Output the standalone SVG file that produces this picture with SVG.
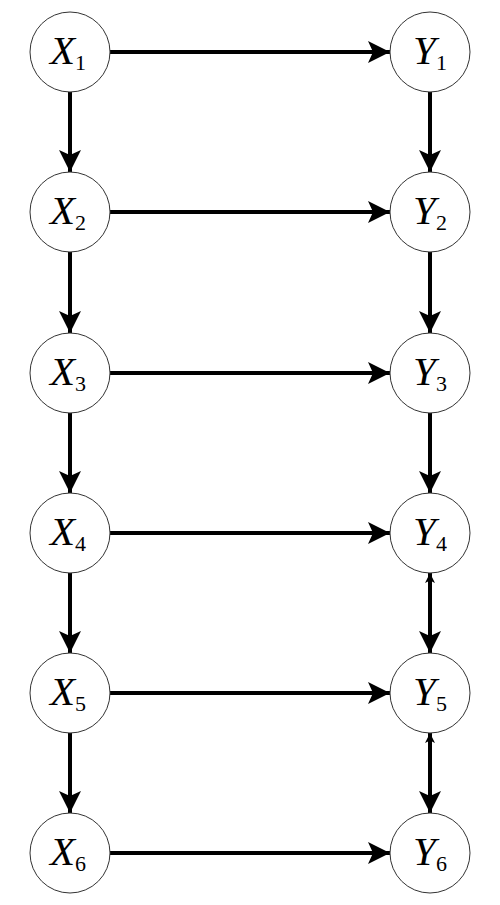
<svg xmlns="http://www.w3.org/2000/svg" width="500" height="905" viewBox="0 0 500 905">
<style>
.n{fill:#fff;stroke:#333;stroke-width:1}
.t{font-family:"Liberation Serif",serif;font-size:41px;fill:#000}
.x{font-style:italic}
.s{font-size:22px}
.e{stroke:#000;stroke-width:4;fill:none;marker-end:url(#ah)}
.b{marker-start:url(#sh)}
</style>
<defs>
<marker id="ah" markerUnits="userSpaceOnUse" markerWidth="24" markerHeight="24" refX="22" refY="11" orient="auto" viewBox="0 0 24 22">
<path d="M0,0 L22,11 L0,22 L5,11 Z" fill="#000"/>
</marker>
<marker id="sh" markerUnits="userSpaceOnUse" markerWidth="10" markerHeight="10" refX="0" refY="4" orient="auto" viewBox="0 0 8 8">
<path d="M0,4 L8,0 L6,4 L8,8 Z" fill="#000"/>
</marker>
</defs>
<g id="edges">
<line class="e" x1="110" y1="52" x2="390" y2="52"/>
<line class="e" x1="110" y1="212" x2="390" y2="212"/>
<line class="e" x1="110" y1="373" x2="390" y2="373"/>
<line class="e" x1="110" y1="533" x2="390" y2="533"/>
<line class="e" x1="110" y1="693" x2="390" y2="693"/>
<line class="e" x1="110" y1="853" x2="390" y2="853"/>
<line class="e" x1="70" y1="92" x2="70" y2="172"/>
<line class="e" x1="70" y1="252" x2="70" y2="333"/>
<line class="e" x1="70" y1="413" x2="70" y2="493"/>
<line class="e" x1="70" y1="573" x2="70" y2="653"/>
<line class="e" x1="70" y1="733" x2="70" y2="813"/>
<line class="e" x1="430" y1="92" x2="430" y2="172"/>
<line class="e" x1="430" y1="252" x2="430" y2="333"/>
<line class="e" x1="430" y1="413" x2="430" y2="493"/>
<line class="e b" x1="430" y1="573" x2="430" y2="653"/>
<line class="e b" x1="430" y1="733" x2="430" y2="813"/>
</g>
<g id="X1"><circle class="n" cx="70" cy="52" r="40"/><text class="t" x="68" y="64" text-anchor="middle"><tspan class="x">X</tspan><tspan class="s" dy="6">1</tspan></text></g>
<g id="X2"><circle class="n" cx="70" cy="212" r="40"/><text class="t" x="68" y="224" text-anchor="middle"><tspan class="x">X</tspan><tspan class="s" dy="6">2</tspan></text></g>
<g id="X3"><circle class="n" cx="70" cy="373" r="40"/><text class="t" x="68" y="385" text-anchor="middle"><tspan class="x">X</tspan><tspan class="s" dy="6">3</tspan></text></g>
<g id="X4"><circle class="n" cx="70" cy="533" r="40"/><text class="t" x="68" y="545" text-anchor="middle"><tspan class="x">X</tspan><tspan class="s" dy="6">4</tspan></text></g>
<g id="X5"><circle class="n" cx="70" cy="693" r="40"/><text class="t" x="68" y="705" text-anchor="middle"><tspan class="x">X</tspan><tspan class="s" dy="6">5</tspan></text></g>
<g id="X6"><circle class="n" cx="70" cy="853" r="40"/><text class="t" x="68" y="865" text-anchor="middle"><tspan class="x">X</tspan><tspan class="s" dy="6">6</tspan></text></g>
<g id="Y1"><circle class="n" cx="430" cy="52" r="40"/><text class="t" x="430" y="64" text-anchor="middle"><tspan class="x">Y</tspan><tspan class="s" dy="6">1</tspan></text></g>
<g id="Y2"><circle class="n" cx="430" cy="212" r="40"/><text class="t" x="430" y="224" text-anchor="middle"><tspan class="x">Y</tspan><tspan class="s" dy="6">2</tspan></text></g>
<g id="Y3"><circle class="n" cx="430" cy="373" r="40"/><text class="t" x="430" y="385" text-anchor="middle"><tspan class="x">Y</tspan><tspan class="s" dy="6">3</tspan></text></g>
<g id="Y4"><circle class="n" cx="430" cy="533" r="40"/><text class="t" x="430" y="545" text-anchor="middle"><tspan class="x">Y</tspan><tspan class="s" dy="6">4</tspan></text></g>
<g id="Y5"><circle class="n" cx="430" cy="693" r="40"/><text class="t" x="430" y="705" text-anchor="middle"><tspan class="x">Y</tspan><tspan class="s" dy="6">5</tspan></text></g>
<g id="Y6"><circle class="n" cx="430" cy="853" r="40"/><text class="t" x="430" y="865" text-anchor="middle"><tspan class="x">Y</tspan><tspan class="s" dy="6">6</tspan></text></g>
</svg>
